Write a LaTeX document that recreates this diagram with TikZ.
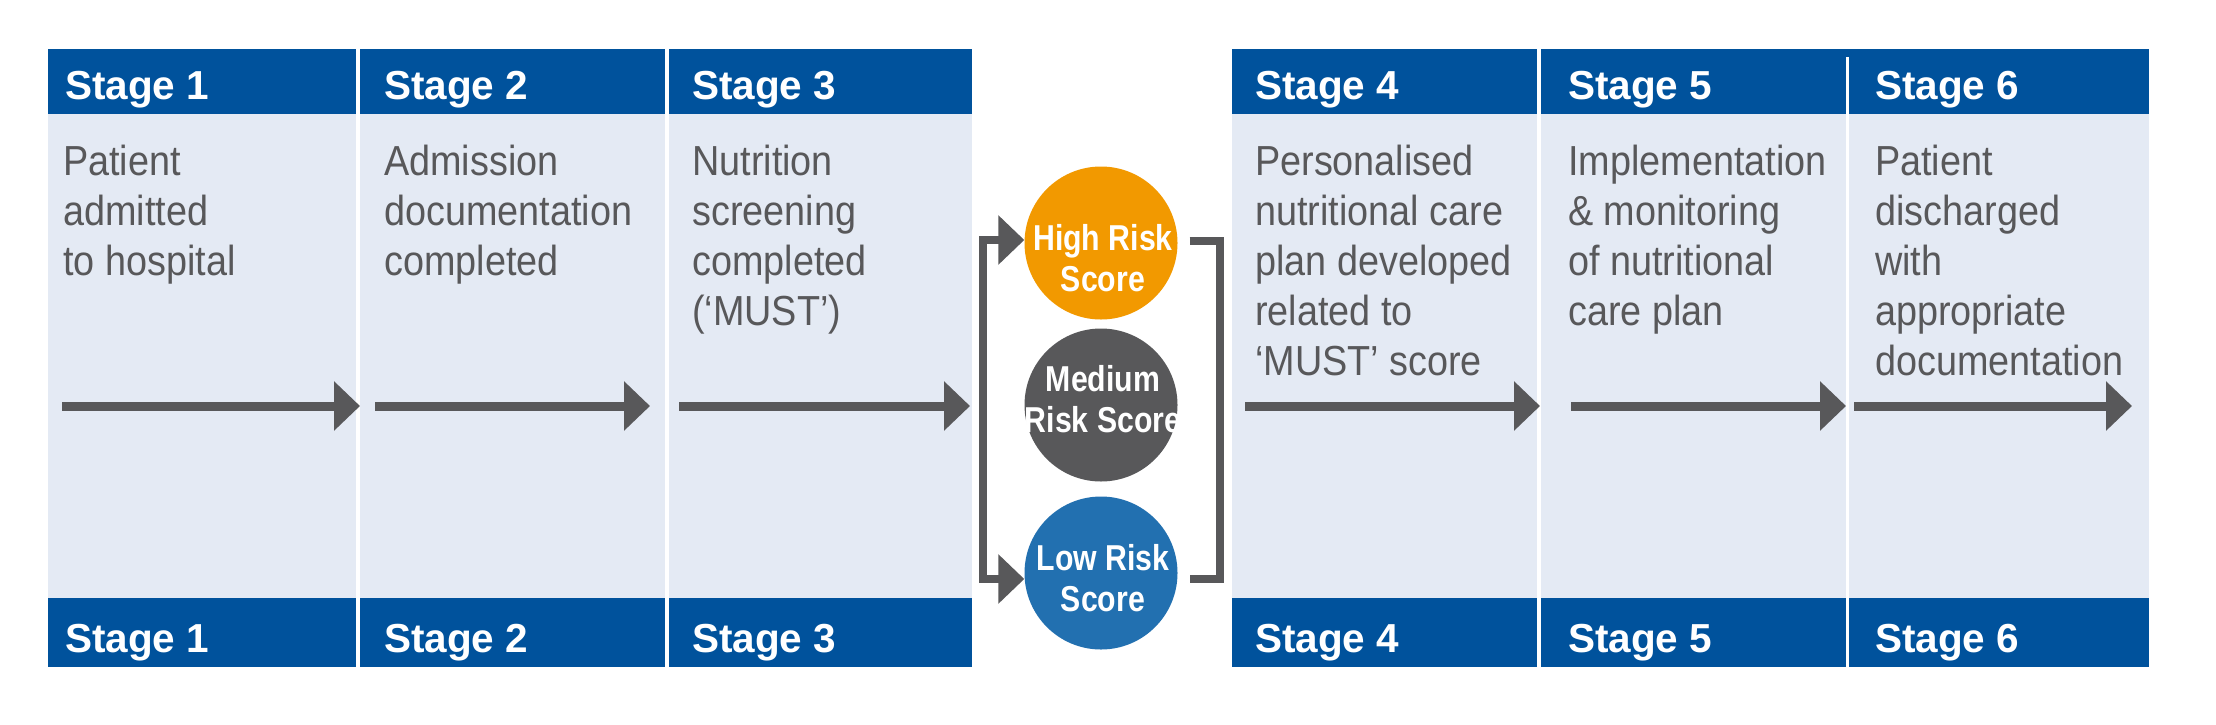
\documentclass[tikz,border=0pt]{standalone}
\usepackage{fontspec}
\setmainfont{Liberation Sans}
\newfontfamily\bodyfont[FakeStretch=0.9]{Liberation Sans}
\newfontfamily\circfont[FakeStretch=0.84]{Liberation Sans}
\usetikzlibrary{arrows.meta}
\definecolor{hdrblue}{HTML}{00529C}
\definecolor{lightbg}{HTML}{E4EAF4}
\definecolor{agray}{HTML}{58585A}
\definecolor{tgray}{HTML}{58585A}
\definecolor{hiorange}{HTML}{F29900}
\definecolor{lowblue}{HTML}{2270B0}
\begin{document}
\begin{tikzpicture}[x=1pt,y=-1pt,
  colbg/.style={fill=lightbg},
  hdr/.style={fill=hdrblue},
  stagelbl/.style={anchor=base west,inner sep=0pt,text=white,font=\fontsize{40.5}{48}\selectfont\bfseries},
  bodytxt/.style={anchor=north west,inner sep=0pt,align=left,text=tgray,font=\bodyfont\fontsize{42}{50}\selectfont},
  flow/.style={draw=agray,line width=9pt,-{Triangle[length=26pt,width=48pt]}},
  brk/.style={draw=agray,line width=8pt},
  circ/.style={circle,minimum size=153pt,inner sep=0pt,draw=none},
  circtxt/.style={anchor=north,inner sep=0pt,align=center,text=white,font=\circfont\bfseries\fontsize{36}{41}\selectfont}]
\useasboundingbox (0,0) rectangle (2216,724);
\fill[white] (0,0) rectangle (2216,724);
% columns
\foreach \l/\r in {48/356,360/665,669/972,1232/1537,1541/1846,1849/2149}{
  \fill[colbg] (\l,49) rectangle (\r,667);
  \fill[hdr] (\l,49) rectangle (\r,114);
  \fill[hdr] (\l,598) rectangle (\r,667);
}
\fill[hdr] (1846,49) rectangle (1849,57);
% stage labels
\foreach \x/\n in {65/1,384/2,692/3,1255/4,1568/5,1875/6}{
  \node[stagelbl] at (\x,99) {Stage \n};
  \node[stagelbl] at (\x,652) {Stage \n};
}
% body texts
\node[bodytxt] (t1) at (63,142) {\rule{0pt}{33pt}Patient\\admitted\\to hospital};
\node[bodytxt] (t2) at (384,142) {\rule{0pt}{33pt}Admission\\documentation\\completed};
\node[bodytxt] (t3) at (692,142) {\rule{0pt}{33pt}Nutrition\\screening\\completed\\(‘MUST’)};
\node[bodytxt] (t4) at (1255,142) {\rule{0pt}{33pt}Personalised\\nutritional care\\plan developed\\related to\\‘MUST’ score};
\node[bodytxt] (t5) at (1568,142) {\rule{0pt}{33pt}Implementation\\\& monitoring\\of nutritional\\care plan};
\node[bodytxt] (t6) at (1875,142) {\rule{0pt}{33pt}Patient\\discharged\\with\\appropriate\\documentation};
% flow arrows
\coordinate (a1s) at (62,406);   \coordinate (a1e) at (360,406);
\coordinate (a2s) at (375,406);  \coordinate (a2e) at (650,406);
\coordinate (a3s) at (679,406);  \coordinate (a3e) at (970,406);
\coordinate (a4s) at (1245,406); \coordinate (a4e) at (1540,406);
\coordinate (a5s) at (1571,406); \coordinate (a5e) at (1846,406);
\coordinate (a6s) at (1854,406); \coordinate (a6e) at (2132,406);
\draw[flow] (a1s) -- (a1e);
\draw[flow] (a2s) -- (a2e);
\draw[flow] (a3s) -- (a3e);
\draw[flow] (a4s) -- (a4e);
\draw[flow] (a5s) -- (a5e);
\draw[flow] (a6s) -- (a6e);
% circles
\node[circ,fill=hiorange] (high) at (1101,243) {};
\node[circ,fill=agray] (med) at (1101,405) {};
\node[circ,fill=lowblue] (low) at (1101,573) {};
\node[circtxt] (hight) at (1103,220) {\rule{0pt}{30pt}High Risk\\Score};
\node[circtxt] (medt) at (1103,361) {\rule{0pt}{30pt}Medium\\Risk Score};
\node[circtxt] (lowt) at (1103,540) {\rule{0pt}{30pt}Low Risk\\Score};
% left bracket
\coordinate (lb) at (982.5,406);
\draw[brk,-{Triangle[length=26pt,width=48pt]}] (lb) |- ([yshift=3pt]high.west);
\draw[brk,-{Triangle[length=26pt,width=48pt]}] (lb) |- ([yshift=-6pt]low.west);
% right bracket
\coordinate (rb) at (1220,406);
\draw[brk] ([xshift=12pt,yshift=2pt]high.east) -| (rb) |- ([xshift=12pt,yshift=-5.5pt]low.east);
\end{tikzpicture}
\end{document}
